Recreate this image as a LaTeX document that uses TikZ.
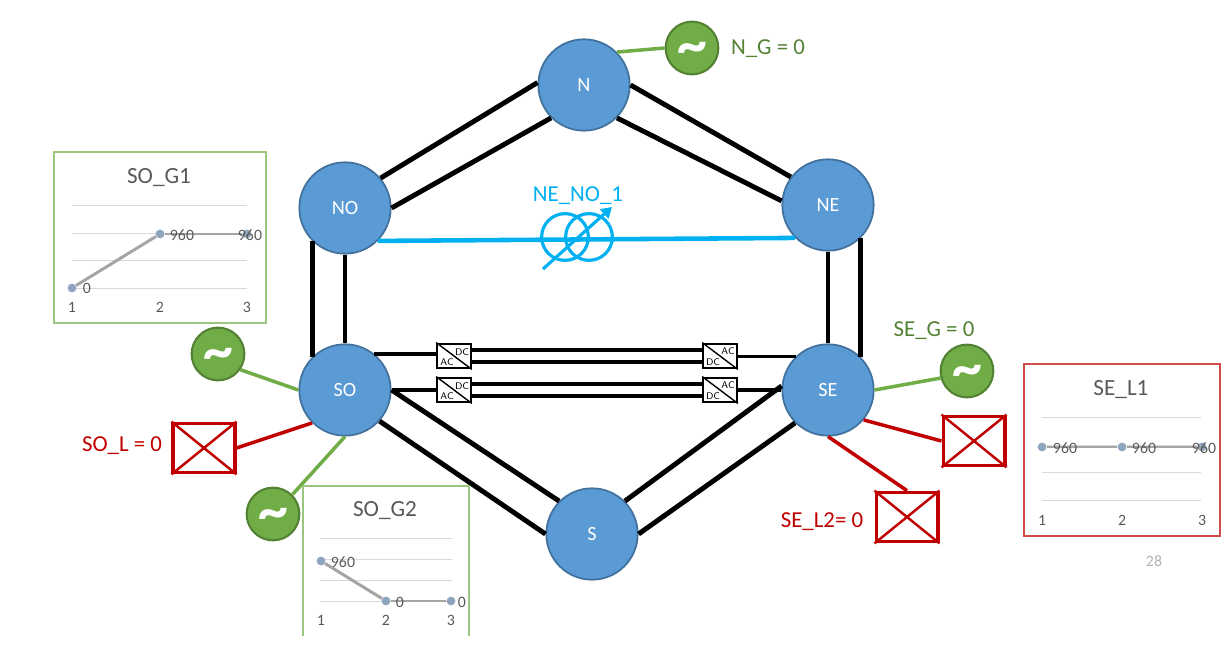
\documentclass[tikz,border=0pt]{standalone}
\usepackage{xcolor}
\usepackage{fontspec}
\setmainfont{Carlito}
\usetikzlibrary{arrows.meta,positioning,calc}
\definecolor{busblue}{HTML}{5B9BD5}
\definecolor{busedge}{HTML}{41719C}
\definecolor{gengreen}{HTML}{70AD47}
\definecolor{genedge}{HTML}{548235}
\definecolor{loadred}{HTML}{C00000}
\definecolor{pstcyan}{HTML}{00B0F0}
\definecolor{chartgrey}{HTML}{A5A5A5}
\definecolor{chartdot}{HTML}{8FA5BE}
\definecolor{charttext}{HTML}{595959}
\newcommand{\gentilde}{\raisebox{-0.27em}[0pt][0pt]{\textasciitilde}}
\tikzset{
  bus/.style={circle,draw=busedge,fill=busblue,line width=1pt,minimum size=52pt,inner sep=0pt,text=white,font=\fontsize{11.5}{12}\selectfont},
  gen/.style={circle,draw=genedge,fill=gengreen,line width=1.2pt,minimum size=30pt,inner sep=0pt,text=white,font=\fontsize{34}{34}\selectfont\bfseries},
  loadbox/.style={rectangle,draw=loadred,line width=2pt,minimum width=35pt,minimum height=28pt,inner sep=0pt},
  conv/.style={rectangle,draw=black,fill=white,line width=1.3pt,minimum width=19pt,minimum height=14pt,inner sep=0pt},
  convtext/.style={inner sep=0pt,text=black,font=\fontsize{5.5}{6}\selectfont\sffamily},
  line/.style={draw=black,line width=2.8pt},
  hvdc/.style={draw=black,line width=2.1pt},
  gline/.style={draw=gengreen,line width=2pt},
  rline/.style={draw=loadred,line width=2pt},
  glabel/.style={text=genedge,inner sep=0pt,font=\fontsize{13}{14}\selectfont},
  rlabel/.style={text=loadred,inner sep=0pt,font=\fontsize{13}{14}\selectfont},
  ctitle/.style={text=charttext,inner sep=0pt,font=\fontsize{13.2}{14}\selectfont},
  cnum/.style={text=charttext,inner sep=0pt,font=\fontsize{9}{10}\selectfont},
  cdot/.style={circle,fill=chartdot,minimum size=5pt,inner sep=0pt},
  cline/.style={draw=chartgrey,line width=1.7pt},
  cgrid/.style={draw=black!15,line width=0.5pt},
  pst/.style={circle,draw=pstcyan,line width=1.8pt,minimum size=26.6pt,inner sep=0pt}
}
\begin{document}
\begin{tikzpicture}[x=0.02cm,y=-0.02cm]
  \useasboundingbox (0,0) rectangle (1231,651);

  % buses
  \node[bus] (N) at (584,85) {N};
  \node[bus] (NO) at (345,208) {NO};
  \node[bus] (NE) at (828,205) {NE};
  \node[bus] (SO) at (345,390) {SO};
  \node[bus] (SE) at (828,390) {SE};
  \node[bus] (S) at (592,534) {S};

  % double lines
  \draw[line] (N.177) -- (NO.40);
  \draw[line] (N.225) -- (NO.0);
  \draw[line] (N.0) -- (NE.143);
  \draw[line] (N.-45) -- (NE.175);
  \draw[line] (NO.225) -- (SO.135);
  \draw[line] (NO.270) -- (SO.90);
  \draw[line] (NE.270) -- (SE.90);
  \draw[line] (NE.-45) -- (SE.45);
  \draw[line] (SO.0) -- (S.135);
  \draw[line] (SO.-42) -- (S.180);
  \draw[line] (S.45) -- (SE.175);
  \draw[line] (S.0) -- (SE.225);

  % phase shifter
  \node[pst] (pstA) at (565,237) {};
  \node[pst] (pstB) at (589,237) {};
  \coordinate (pstS) at (543,269);
  \coordinate (pstE) at (612,207);
  \draw[draw=pstcyan,line width=1.8pt,-{Triangle[length=6pt,width=7pt]}] (pstS) -- (pstE);
  \draw[draw=pstcyan,line width=2.6pt] (NO.-45) -- (NE.-135);
  \node[text=pstcyan,inner sep=0pt,font=\fontsize{13}{14}\selectfont] (pstlabel) at (578,196) {NE\_NO\_1};

  % converters
  \foreach \nm/\cy in {1/356, 2/390} {
    \node[conv] (cl\nm) at (454,\cy) {};
    \node[conv] (cr\nm) at (720,\cy) {};
    \draw[line width=0.8pt] (cl\nm.north west) -- (cl\nm.south east);
    \draw[line width=0.8pt] (cr\nm.north west) -- (cr\nm.south east);
    \draw[hvdc] ([yshift=3.6pt]cl\nm.east) -- ([yshift=3.6pt]cr\nm.west);
    \draw[hvdc] ([yshift=-3.6pt]cl\nm.east) -- ([yshift=-3.6pt]cr\nm.west);
    \node[convtext] (cldc\nm) at (462,\cy-4) {DC};
    \node[convtext] (clac\nm) at (447,\cy+6) {AC};
    \node[convtext] (crac\nm) at (728,\cy-5) {AC};
    \node[convtext] (crdc\nm) at (713,\cy+6) {DC};
  }
  \draw[hvdc] (SO.51) -- (SO.51 -| cl1.west);
  \draw[hvdc] (cr1.east |- SE.134) -- (SE.134);
  \draw[hvdc] (SO.0) -- (cl2.west);
  \draw[hvdc] (cr2.east) -- (SE.180);

  % generators
  \node[gen] (gN) at (692,48) {\gentilde};
  \node[gen] (gSOa) at (218,354) {\gentilde};
  \node[gen] (gSOb) at (273,514) {\gentilde};
  \node[gen] (gSE) at (967,371) {\gentilde};
  \draw[gline] (N.45) -- (gN.180);
  \draw[gline] (gSOa.-35) -- (SO.180);
  \draw[gline] (gSOb.45) -- (SO.270);
  \draw[gline] (SE.0) -- (gSE.195);
  \node[glabel] (lN) at (768,49) {N\_G = 0};
  \node[glabel] (lSE) at (934,331) {SE\_G = 0};

  % loads
  \foreach \nm/\lx/\ly in {lSO/204/448, lSEa/974/441, lSEb/907/517} {
    \node[loadbox] (\nm) at (\lx,\ly) {};
    \draw[draw=loadred,line width=1.4pt] (\nm.north west) -- (\nm.south east);
    \draw[draw=loadred,line width=1.4pt] (\nm.south west) -- (\nm.north east);
  }
  \draw[rline] (SO.225) -- (lSO.east);
  \draw[rline] (SE.-40) -- (lSEa.west);
  \draw[rline] (SE.270) -- (lSEb.north);
  \node[rlabel] (tSO) at (122,446) {SO\_L = 0};
  \node[rlabel] (tSE) at (822,522) {SE\_L2= 0};

  % charts
  \draw[draw=gengreen!70,line width=0.8pt] (54,152) rectangle (266,323);
  \draw[draw=gengreen!70,line width=0.8pt] (303,636) -- (303,486) -- (469,486) -- (469,636);
  \draw[draw=loadred!70,line width=0.8pt] (1024,364) rectangle (1220,536);
  \foreach \gy in {205,233,260,288} \draw[cgrid] (72,\gy) -- (247,\gy);
  \foreach \gy in {538,559,580,601} \draw[cgrid] (320,\gy) -- (452,\gy);
  \foreach \gy in {417,445,472,500} \draw[cgrid] (1042,\gy) -- (1201,\gy);
  \node[ctitle] (tA) at (159,178) {SO\_G1};
  \node[ctitle] (tB) at (385,511) {SO\_G2};
  \node[ctitle] (tC) at (1121,390) {SE\_L1};
  \foreach \i/\ax/\ay/\bx/\by/\cx/\cy in {1/72/288/321/561/1042/447, 2/160/234/386/601/1122/447, 3/247/234/451/601/1202/447} {
    \node[cdot] (a\i) at (\ax,\ay) {};
    \node[cdot] (b\i) at (\bx,\by) {};
    \node[cdot] (c\i) at (\cx,\cy) {};
    \node[cnum] (ax\i) at (\ax,307) {\i};
    \node[cnum] (bx\i) at (\bx,620) {\i};
    \node[cnum] (cx\i) at (\cx,520) {\i};
  }
  \draw[cline] (a1) -- (a2);
  \draw[cline] (a2) -- (a3);
  \draw[cline] (b1) -- (b2);
  \draw[cline] (b2) -- (b3);
  \draw[cline] (c1) -- (c2);
  \draw[cline] (c2) -- (c3);
  \node[cnum] (va1) at (87,288) {0};
  \node[cnum] (va2) at (182,235) {960};
  \node[cnum] (va3) at (250,235) {960};
  \node[cnum] (vb1) at (343,562) {960};
  \node[cnum] (vb2) at (400,602) {0};
  \node[cnum] (vb3) at (462,602) {0};
  \node[cnum] (vc1) at (1065,448) {960};
  \node[cnum] (vc2) at (1144,448) {960};
  \node[cnum] (vc3) at (1204,448) {960};
  \node[text=black!30,inner sep=0pt,font=\fontsize{9}{10}\selectfont] (pagenum) at (1154,561) {28};
\end{tikzpicture}
\end{document}
